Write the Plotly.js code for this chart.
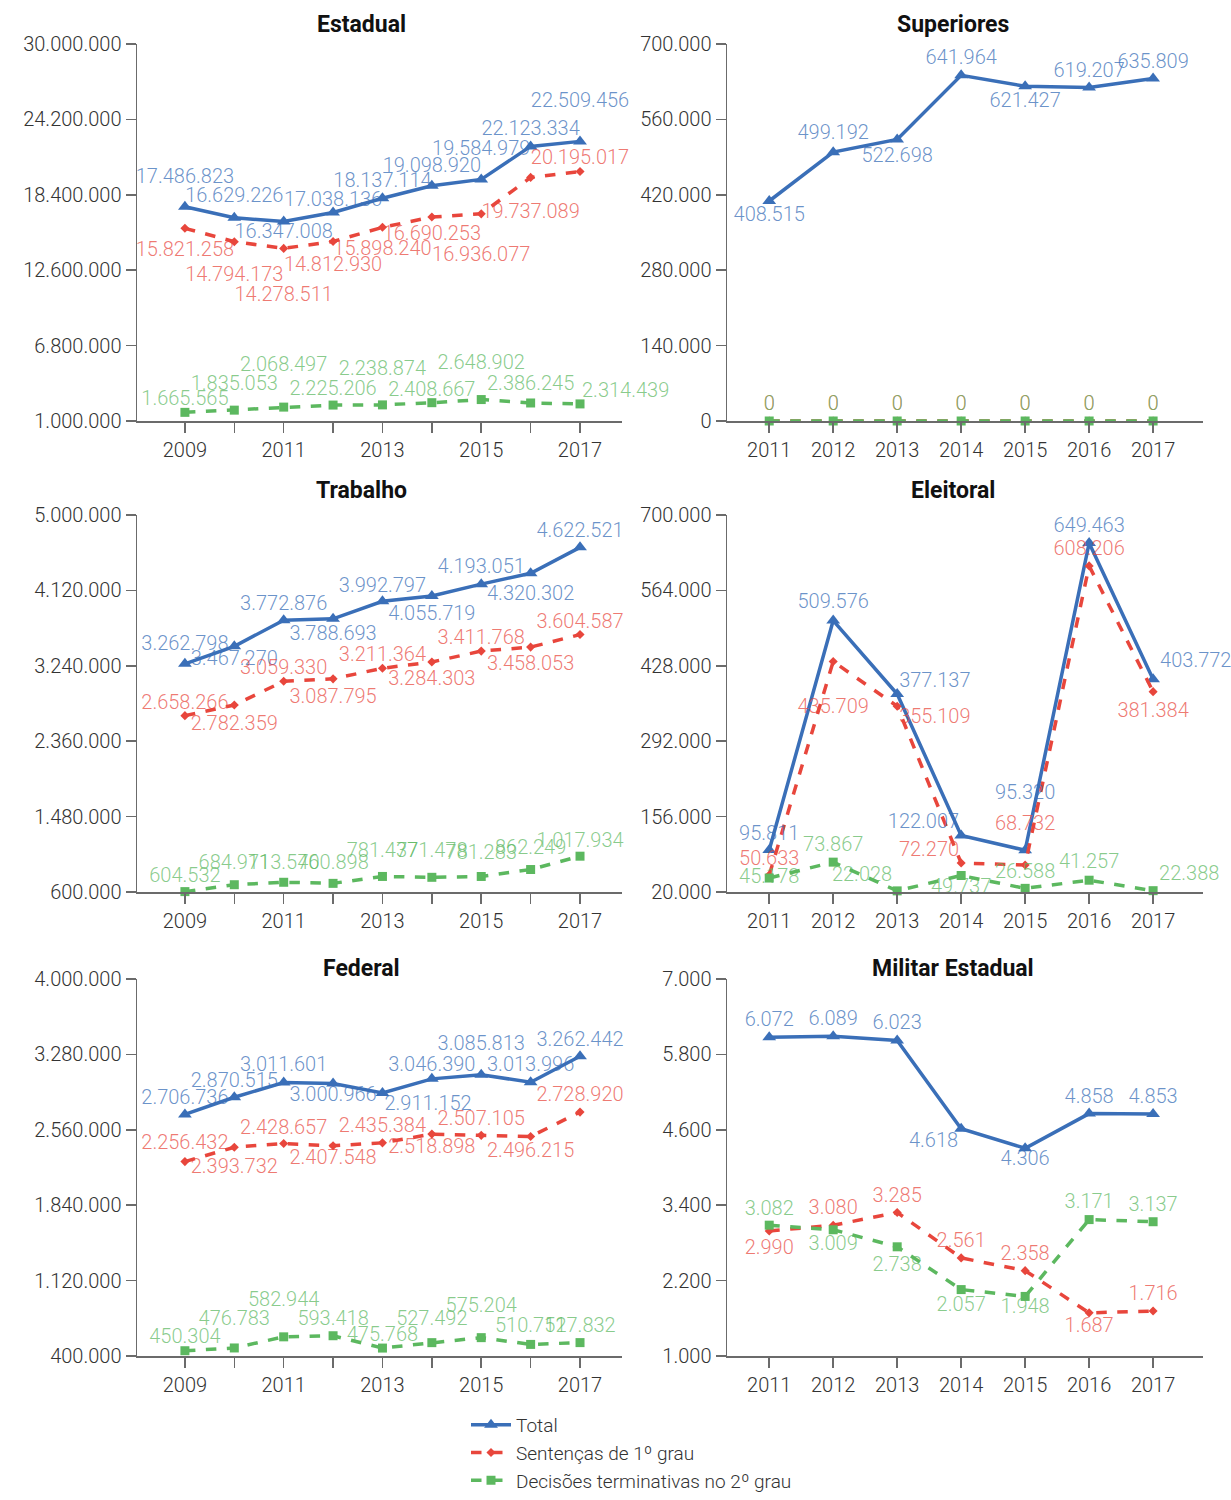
<!DOCTYPE html>
<html>
<head>
<meta charset="utf-8">
<script src="https://cdn.plot.ly/plotly-3.0.1.min.js"></script>
<style>html,body{margin:0;padding:0;background:#fff}#chart{width:1231px;height:1500px}</style>
</head>
<body>
<div id="chart"></div>
<script>
// ---------- DATA ----------
const yearsLong = [2009, 2010, 2011, 2012, 2013, 2014, 2015, 2016, 2017];
const yearsShort = [2011, 2012, 2013, 2014, 2015, 2016, 2017];

const seriesNames = ['Total', 'Sentenças de 1º grau', 'Decisões terminativas no 2º grau'];
const panelTitles = ['Estadual', 'Superiores', 'Trabalho', 'Eleitoral', 'Federal', 'Militar Estadual'];

const estadualTotal = [17486823, 16629226, 16347008, 17038136, 18137114, 19098920, 19584979, 22123334, 22509456];
const estadualSent  = [15821258, 14794173, 14278511, 14812930, 15898240, 16690253, 16936077, 19737089, 20195017];
const estadualDec   = [1665565, 1835053, 2068497, 2225206, 2238874, 2408667, 2648902, 2386245, 2314439];

const superioresTotal = [408515, 499192, 522698, 641964, 621427, 619207, 635809];
const superioresSent  = [0, 0, 0, 0, 0, 0, 0];
const superioresDec   = [0, 0, 0, 0, 0, 0, 0];

const trabalhoTotal = [3262798, 3467270, 3772876, 3788693, 3992797, 4055719, 4193051, 4320302, 4622521];
const trabalhoSent  = [2658266, 2782359, 3059330, 3087795, 3211364, 3284303, 3411768, 3458053, 3604587];
const trabalhoDec   = [604532, 684911, 713546, 700898, 781437, 771478, 781283, 862249, 1017934];

const eleitoralTotal = [95811, 509576, 377137, 122007, 95320, 649463, 403772];
const eleitoralSent  = [50633, 435709, 355109, 72270, 68732, 608206, 381384];
const eleitoralDec   = [45178, 73867, 22028, 49737, 26588, 41257, 22388];

const federalTotal = [2706736, 2870515, 3011601, 3000966, 2911152, 3046390, 3085813, 3013996, 3262442];
const federalSent  = [2256432, 2393732, 2428657, 2407548, 2435384, 2518898, 2507105, 2496215, 2728920];
const federalDec   = [450304, 476783, 582944, 593418, 475768, 527492, 575204, 510711, 527832];

const militarTotal = [6072, 6089, 6023, 4618, 4306, 4858, 4853];
const militarSent  = [2990, 3080, 3285, 2561, 2358, 1687, 1716];
const militarDec   = [3082, 3009, 2738, 2057, 1948, 3171, 3137];

const estadualTicks   = [1000000, 6800000, 12600000, 18400000, 24200000, 30000000];
const superioresTicks = [0, 140000, 280000, 420000, 560000, 700000];
const trabalhoTicks   = [600000, 1480000, 2360000, 3240000, 4120000, 5000000];
const eleitoralTicks  = [20000, 156000, 292000, 428000, 564000, 700000];
const federalTicks    = [400000, 1120000, 1840000, 2560000, 3280000, 4000000];
const militarTicks    = [1000, 2200, 3400, 4600, 5800, 7000];

// ---------- LABEL PLACEMENT (style only) ----------
const T = 'top center', B = 'bottom center', TR = 'top right', TL = 'top left',
      BR = 'bottom right', BL = 'bottom left', M = 'middle center';
const labelPos = {
  estadual:   [[T,T,B,T,T,T,T,T,T], [B,B,B,B,B,B,B,B,T], [T,T,T,T,T,T,T,T,TR]],
  superiores: [[B,T,B,T,B,T,T], [T,T,T,T,T,T,T], [T,T,T,T,T,T,T]],
  trabalho:   [[T,B,T,B,T,B,T,B,T], [T,B,T,B,T,B,T,B,T], [T,T,T,T,T,T,T,T,T]],
  eleitoral:  [[T,T,TR,TL,T,T,TR], [T,B,BR,TL,T,T,B], [M,T,TL,B,T,T,TR]],
  federal:    [[T,T,T,B,BR,T,T,T,T], [T,B,T,B,T,B,T,B,T], [T,T,T,T,T,T,T,T,T]],
  militar:    [[T,T,T,BL,B,T,T], [B,T,T,T,T,B,T], [T,B,B,B,B,T,T]]
};
// distance (px) between point and label centre
const labelGap = {
  estadual:   [[31,23,14,14,18,21,31,18,41], [25,36,50,27,25,20,44,38,14], [14,27,43,17,37,14,38,20,14]],
  superiores: [[17,20,20,18,18,18,18], [18,18,18,18,18,18,18], [18,18,18,18,18,18,18]],
  trabalho:   [[21,16,17,18,16,21,18,24,17], [14,22,14,21,14,20,14,20,14], [17,23,20,21,26,27,24,23,16]],
  eleitoral:  [[17,20,14,14,58,18,19], [17,48,14,14,42,18,22], [0,18,17,14,17,19,18]],
  federal:    [[17,17,19,14,14,15,32,18,17], [20,23,17,15,18,16,17,18,18], [15,30,38,18,14,25,33,19,18]],
  militar:    [[18,18,18,15,14,18,18], [20,18,17,18,18,16,18], [17,17,21,18,14,19,18]]
};
const lineColors  = ['#3a6fb8', '#e8463c', '#5cb85f'];
const labelColors = ['rgba(58,111,184,0.75)', 'rgba(232,70,60,0.72)', 'rgba(92,184,95,0.72)'];
const dashes  = ['solid', 'dash', 'dash'];
const symbols = ['triangle-up', 'diamond', 'square'];
const msizes  = [12, 7, 9];
const FONT = 'Roboto, Inter, sans-serif';
const LABEL_FS = 20;

function fmt(v) { return String(v).replace(/\B(?=(\d{3})+(?!\d))/g, '.'); }
function gapToSize(g) { return Math.max(0.5, 1.6 * (g - 13)); }

const traces = [];
const textTraces = [];
function addPanel(idx, years, seriesList, pos, gaps) {
  const ax = idx === 0 ? '' : String(idx + 1);
  seriesList.forEach((vals, k) => {
    traces.push({
      type: 'scatter', mode: 'lines+markers',
      x: years, y: vals,
      cliponaxis: false,
      xaxis: 'x' + ax, yaxis: 'y' + ax,
      name: seriesNames[k],
      legendgroup: seriesNames[k],
      showlegend: idx === 0,
      line: {color: lineColors[k], width: 3.5, dash: dashes[k]},
      marker: {color: lineColors[k], symbol: symbols[k], size: msizes[k], line: {width: 0}},
      hoverinfo: 'x+y+name'
    });
    textTraces.push({
      type: 'scatter', mode: 'markers+text',
      x: years, y: vals,
      text: vals.map(fmt),
      textposition: pos[k],
      textfont: {family: FONT, size: LABEL_FS, color: labelColors[k], weight: 300},
      marker: {size: gaps[k].map(gapToSize), color: 'rgba(0,0,0,0)', opacity: 0,
               line: {width: 0, color: 'rgba(0,0,0,0)'}},
      cliponaxis: false,
      xaxis: 'x' + ax, yaxis: 'y' + ax,
      showlegend: false, hoverinfo: 'skip'
    });
  });
}
addPanel(0, yearsLong,  [estadualTotal, estadualSent, estadualDec], labelPos.estadual, labelGap.estadual);
addPanel(1, yearsShort, [superioresTotal, superioresSent, superioresDec], labelPos.superiores, labelGap.superiores);
addPanel(2, yearsLong,  [trabalhoTotal, trabalhoSent, trabalhoDec], labelPos.trabalho, labelGap.trabalho);
addPanel(3, yearsShort, [eleitoralTotal, eleitoralSent, eleitoralDec], labelPos.eleitoral, labelGap.eleitoral);
addPanel(4, yearsLong,  [federalTotal, federalSent, federalDec], labelPos.federal, labelGap.federal);
addPanel(5, yearsShort, [militarTotal, militarSent, militarDec], labelPos.militar, labelGap.militar);

const W = 1231, H = 1500;
const colX = [[137 / W, 622 / W], [727 / W, 1203 / W]];
const rowPx = [[44, 421], [515, 892], [979, 1356]];
const rowY = rowPx.map(r => [1 - r[1] / H, 1 - r[0] / H]);
const titlePx = [24, 491, 968];
const yTicksList = [estadualTicks, superioresTicks, trabalhoTicks, eleitoralTicks, federalTicks, militarTicks];

const axisBase = {
  showline: true, linecolor: '#6b6b6b', linewidth: 1.5,
  ticks: 'outside', ticklen: 10, tickcolor: '#6b6b6b', tickwidth: 1.5,
  showgrid: false, zeroline: false, fixedrange: true,
  tickfont: {family: FONT, size: 20, color: '#333', weight: 300}
};

const layout = {
  width: W, height: H,
  margin: {l: 0, r: 0, t: 0, b: 0},
  paper_bgcolor: '#fff', plot_bgcolor: '#fff',
  separators: ',.',
  showlegend: true,
  legend: {x: 466 / W, y: 0, xanchor: 'left', yanchor: 'bottom',
           bgcolor: 'rgba(255,255,255,0)',
           font: {family: FONT, size: 19, color: '#333', weight: 300},
           tracegroupgap: 0, itemwidth: 40},
  annotations: []
};

for (let i = 0; i < 6; i++) {
  const col = i % 2, row = Math.floor(i / 2);
  const ax = i === 0 ? '' : String(i + 1);
  const years = col === 0 ? yearsLong : yearsShort;
  const ticksY = yTicksList[i];
  layout['xaxis' + ax] = Object.assign({}, axisBase, {
    domain: colX[col], anchor: 'y' + ax,
    range: col === 0 ? [2008.03, 2017.85] : [2010.34, 2017.78],
    tickmode: 'array', tickvals: years,
    ticktext: years.map(y => (col === 0 && (y - 2009) % 2 === 1) ? '' : String(y))
  });
  layout['yaxis' + ax] = Object.assign({}, axisBase, {
    domain: rowY[row], anchor: 'x' + ax,
    range: [ticksY[0], ticksY[ticksY.length - 1]],
    tickmode: 'array', tickvals: ticksY, tickformat: ',d'
  });
  layout.annotations.push({
    text: '<b>' + panelTitles[i] + '</b>', showarrow: false,
    xref: 'paper', yref: 'paper',
    x: (col === 0 ? 361 : 953) / W, y: 1 - titlePx[row] / H,
    xanchor: 'center', yanchor: 'middle',
    font: {family: 'Roboto, "Liberation Sans", sans-serif', size: 23, color: '#111', weight: 700}
  });
}

Plotly.newPlot('chart', traces.concat(textTraces), layout, {displayModeBar: false, staticPlot: true});
</script>
</body>
</html>
